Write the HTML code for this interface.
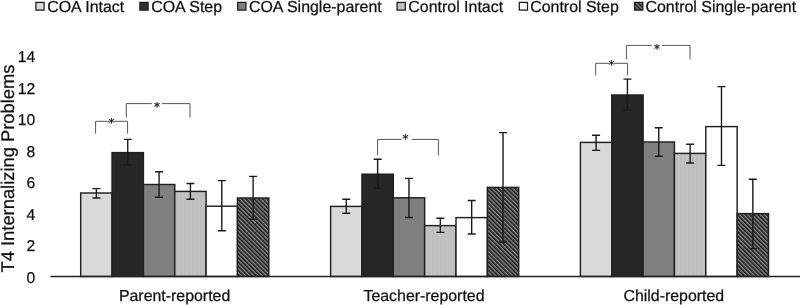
<!DOCTYPE html>
<html><head><meta charset="utf-8"><title>chart</title>
<style>
html,body{margin:0;padding:0;background:#fff;}
body{width:800px;height:305px;overflow:hidden;}
svg{display:block;will-change:transform;}
text{font-family:"Liberation Sans",Arial,sans-serif;fill:#111;stroke:#111;stroke-width:0.25px;text-rendering:geometricPrecision;}
</style></head><body>
<svg width="800" height="305" viewBox="0 0 800 305">
<defs>
<pattern id="vs" width="4" height="4" patternUnits="userSpaceOnUse"><rect width="4" height="4" fill="#c3c3c3"/><rect width="2" height="4" fill="#bebebe"/></pattern>
<pattern id="dh" width="2.95" height="2.95" patternUnits="userSpaceOnUse" patternTransform="rotate(-45)"><rect width="2.95" height="2.95" fill="#8e8e8e"/><rect width="1.55" height="2.95" fill="#151515"/></pattern>
</defs>
<rect width="800" height="305" fill="#fff"/>

<rect x="35.9" y="2.4" width="8.2" height="7.7" fill="#d9d9d9" stroke="#202020" stroke-width="1.3"/>
<text x="47.2" y="12.2" font-size="15.95">COA Intact</text>
<rect x="139.9" y="2.4" width="8.2" height="7.7" fill="#303030" stroke="#202020" stroke-width="1.3"/>
<text x="151.2" y="12.2" font-size="15.95">COA Step</text>
<rect x="237.7" y="2.4" width="8.2" height="7.7" fill="#7f7f7f" stroke="#202020" stroke-width="1.3"/>
<text x="248.9" y="12.2" font-size="15.95">COA Single-parent</text>
<rect x="397.1" y="2.4" width="8.2" height="7.7" fill="url(#vs)" stroke="#202020" stroke-width="1.3"/>
<text x="408.3" y="12.2" font-size="15.95">Control Intact</text>
<rect x="519.3" y="2.4" width="8.2" height="7.7" fill="#ffffff" stroke="#202020" stroke-width="1.3"/>
<text x="530.2" y="12.2" font-size="15.95">Control Step</text>
<rect x="634.6" y="2.4" width="8.2" height="7.7" fill="url(#dh)" stroke="#202020" stroke-width="1.3"/>
<text x="645.5" y="12.2" font-size="15.95">Control Single-parent</text>
<text x="35.2" y="282.50" font-size="15.7" text-anchor="end">0</text>
<text x="35.2" y="251.00" font-size="15.7" text-anchor="end">2</text>
<text x="35.2" y="219.50" font-size="15.7" text-anchor="end">4</text>
<text x="35.2" y="188.00" font-size="15.7" text-anchor="end">6</text>
<text x="35.2" y="156.50" font-size="15.7" text-anchor="end">8</text>
<text x="35.2" y="125.00" font-size="15.7" text-anchor="end">10</text>
<text x="35.2" y="93.50" font-size="15.7" text-anchor="end">12</text>
<text x="35.2" y="62.00" font-size="15.7" text-anchor="end">14</text>
<text transform="translate(13.7,168.5) rotate(-90)" font-size="18.35" text-anchor="middle">T4 Internalizing Problems</text>
<rect x="80.70" y="193" width="31.35" height="83.50" fill="#d9d9d9" stroke="#202020" stroke-width="1.45"/>
<rect x="112.05" y="152.6" width="31.35" height="123.90" fill="#262626" stroke="#202020" stroke-width="1.45"/>
<rect x="143.40" y="184.5" width="31.35" height="92.00" fill="#7f7f7f" stroke="#202020" stroke-width="1.45"/>
<rect x="174.75" y="191.4" width="31.35" height="85.10" fill="url(#vs)" stroke="#202020" stroke-width="1.45"/>
<rect x="206.10" y="206.2" width="31.35" height="70.30" fill="#ffffff" stroke="#202020" stroke-width="1.45"/>
<rect x="237.45" y="198" width="31.35" height="78.50" fill="url(#dh)" stroke="#202020" stroke-width="1.45"/>
<path d="M96.38,188.6 V198 M92.38,188.6 H100.38 M92.38,198 H100.38" stroke="#1a1a1a" stroke-width="1.4" fill="none"/>
<path d="M127.73,139.4 V165 M123.73,139.4 H131.73 M123.73,165 H131.73" stroke="#1a1a1a" stroke-width="1.4" fill="none"/>
<path d="M159.08,171.8 V197.2 M155.08,171.8 H163.08 M155.08,197.2 H163.08" stroke="#1a1a1a" stroke-width="1.4" fill="none"/>
<path d="M190.43,183.5 V199.2 M186.43,183.5 H194.43 M186.43,199.2 H194.43" stroke="#1a1a1a" stroke-width="1.4" fill="none"/>
<path d="M221.78,180.6 V230.8 M217.78,180.6 H225.78 M217.78,230.8 H225.78" stroke="#1a1a1a" stroke-width="1.4" fill="none"/>
<path d="M253.12,176.4 V219.2 M249.12,176.4 H257.12 M249.12,219.2 H257.12" stroke="#1a1a1a" stroke-width="1.4" fill="none"/>
<rect x="330.60" y="206.4" width="31.35" height="70.10" fill="#d9d9d9" stroke="#202020" stroke-width="1.45"/>
<rect x="361.95" y="174.2" width="31.35" height="102.30" fill="#262626" stroke="#202020" stroke-width="1.45"/>
<rect x="393.30" y="197.8" width="31.35" height="78.70" fill="#7f7f7f" stroke="#202020" stroke-width="1.45"/>
<rect x="424.65" y="225.6" width="31.35" height="50.90" fill="url(#vs)" stroke="#202020" stroke-width="1.45"/>
<rect x="456.00" y="217.6" width="31.35" height="58.90" fill="#ffffff" stroke="#202020" stroke-width="1.45"/>
<rect x="487.35" y="187.4" width="31.35" height="89.10" fill="url(#dh)" stroke="#202020" stroke-width="1.45"/>
<path d="M346.28,199.2 V213.2 M342.28,199.2 H350.28 M342.28,213.2 H350.28" stroke="#1a1a1a" stroke-width="1.4" fill="none"/>
<path d="M377.63,159.2 V188.4 M373.63,159.2 H381.63 M373.63,188.4 H381.63" stroke="#1a1a1a" stroke-width="1.4" fill="none"/>
<path d="M408.98,178.4 V217.5 M404.98,178.4 H412.98 M404.98,217.5 H412.98" stroke="#1a1a1a" stroke-width="1.4" fill="none"/>
<path d="M440.33,218.2 V232.4 M436.33,218.2 H444.33 M436.33,232.4 H444.33" stroke="#1a1a1a" stroke-width="1.4" fill="none"/>
<path d="M471.68,200.5 V234 M467.68,200.5 H475.68 M467.68,234 H475.68" stroke="#1a1a1a" stroke-width="1.4" fill="none"/>
<path d="M503.03,132.6 V242 M499.03,132.6 H507.03 M499.03,242 H507.03" stroke="#1a1a1a" stroke-width="1.4" fill="none"/>
<rect x="580.40" y="142.4" width="31.35" height="134.10" fill="#d9d9d9" stroke="#202020" stroke-width="1.45"/>
<rect x="611.75" y="95.0" width="31.35" height="181.50" fill="#262626" stroke="#202020" stroke-width="1.45"/>
<rect x="643.10" y="142" width="31.35" height="134.50" fill="#7f7f7f" stroke="#202020" stroke-width="1.45"/>
<rect x="674.45" y="153.4" width="31.35" height="123.10" fill="url(#vs)" stroke="#202020" stroke-width="1.45"/>
<rect x="705.80" y="126.6" width="31.35" height="149.90" fill="#ffffff" stroke="#202020" stroke-width="1.45"/>
<rect x="737.15" y="213.6" width="31.35" height="62.90" fill="url(#dh)" stroke="#202020" stroke-width="1.45"/>
<path d="M596.07,135.2 V150.4 M592.07,135.2 H600.07 M592.07,150.4 H600.07" stroke="#1a1a1a" stroke-width="1.4" fill="none"/>
<path d="M627.42,79.1 V110 M623.42,79.1 H631.42 M623.42,110 H631.42" stroke="#1a1a1a" stroke-width="1.4" fill="none"/>
<path d="M658.77,127.8 V156.2 M654.77,127.8 H662.77 M654.77,156.2 H662.77" stroke="#1a1a1a" stroke-width="1.4" fill="none"/>
<path d="M690.12,144.2 V163 M686.12,144.2 H694.12 M686.12,163 H694.12" stroke="#1a1a1a" stroke-width="1.4" fill="none"/>
<path d="M721.47,86.6 V165.4 M717.47,86.6 H725.47 M717.47,165.4 H725.47" stroke="#1a1a1a" stroke-width="1.4" fill="none"/>
<path d="M752.82,179.2 V248.6 M748.82,179.2 H756.82 M748.82,248.6 H756.82" stroke="#1a1a1a" stroke-width="1.4" fill="none"/>
<line x1="50.5" y1="276.5" x2="800" y2="276.5" stroke="#222" stroke-width="1.3"/>
<text x="174.6" y="300.9" font-size="15.9" text-anchor="middle">Parent-reported</text>
<text x="424.0" y="300.9" font-size="15.9" text-anchor="middle">Teacher-reported</text>
<text x="673.8" y="300.9" font-size="15.9" text-anchor="middle">Child-reported</text>
<path d="M95.6,133.6 V121.3 H109 M114,121.3 H127.6 V133.6" stroke="#555" stroke-width="1" fill="none"/>
<text x="111.5" y="126.9" font-size="12" text-anchor="middle" stroke="#1a1a1a" stroke-width="0.35" style="font-family:'DejaVu Sans',sans-serif">*</text>
<path d="M126.3,117.6 V103.6 H151.75 M162,103.6 H190 V117.6" stroke="#555" stroke-width="1" fill="none"/>
<text x="156.9" y="110.9" font-size="12" text-anchor="middle" stroke="#1a1a1a" stroke-width="0.35" style="font-family:'DejaVu Sans',sans-serif">*</text>
<path d="M377.6,155.2 V139.4 H401.5 M411.75,139.4 H438.4 V155.2" stroke="#555" stroke-width="1" fill="none"/>
<text x="405.4" y="143.25" font-size="12" text-anchor="middle" stroke="#1a1a1a" stroke-width="0.35" style="font-family:'DejaVu Sans',sans-serif">*</text>
<path d="M595.7,75.4 V63.3 H609 M614,63.3 H627.6 V75.4" stroke="#555" stroke-width="1" fill="none"/>
<text x="611.5" y="68.5" font-size="12" text-anchor="middle" stroke="#1a1a1a" stroke-width="0.35" style="font-family:'DejaVu Sans',sans-serif">*</text>
<path d="M626.4,59.4 V45.4 H651.75 M662,45.4 H690 V59.4" stroke="#555" stroke-width="1" fill="none"/>
<text x="657" y="52.5" font-size="12" text-anchor="middle" stroke="#1a1a1a" stroke-width="0.35" style="font-family:'DejaVu Sans',sans-serif">*</text>
</svg></body></html>
